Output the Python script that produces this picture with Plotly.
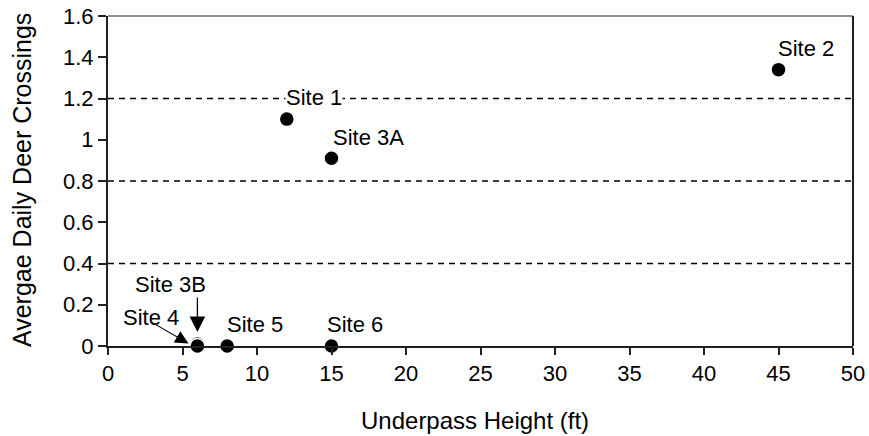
import plotly.graph_objects as go

# ---- data ----
sites = ["Site 1", "Site 2", "Site 3A", "Site 3B", "Site 4", "Site 5", "Site 6"]
heights_ft = [12, 45, 15, 6, 6, 8, 15]
daily_crossings = [1.10, 1.34, 0.91, 0.01, 0.0, 0.0, 0.0]
grid_levels = [0.4, 0.8, 1.2]
x_range = [0, 50]
y_range = [0, 1.6]
x_title = "Underpass Height (ft)"
y_title = "Avergae Daily Deer Crossings"

INK = "#231f20"
FONT = "Arial, Liberation Sans, Helvetica, sans-serif"
FS = 22

fig = go.Figure()

# dashed reference lines
for g in grid_levels:
    fig.add_shape(type="line", xref="paper", x0=0, x1=1, yref="y", y0=g, y1=g,
                  line=dict(color="black", width=1.3, dash="6px,5px"), layer="below")

# frame top/right
fig.add_shape(type="line", xref="paper", yref="paper", x0=0, x1=1, y0=1, y1=1,
              line=dict(color="#6e6e6e", width=1.5))
fig.add_shape(type="line", xref="paper", yref="paper", x0=1, x1=1, y0=0, y1=1,
              line=dict(color=INK, width=2))

fig.add_trace(go.Scatter(
    x=heights_ft, y=daily_crossings, mode="markers", cliponaxis=False,
    marker=dict(size=15, color="black", line=dict(color="white", width=1.5)),
    hovertext=sites, showlegend=False,
))

# label placement (pixel offsets from each point)
label_style = {
    "Site 1": dict(xanchor="left", xshift=-2, yshift=22),
    "Site 2": dict(xanchor="left", xshift=-2, yshift=21),
    "Site 3A": dict(xanchor="left", xshift=0, yshift=21),
    "Site 3B": dict(xanchor="center", xshift=-27, yshift=62),
    "Site 4": dict(xanchor="center", xshift=-46, yshift=29),
    "Site 5": dict(xanchor="left", xshift=-1, yshift=22),
    "Site 6": dict(xanchor="left", xshift=-6, yshift=22),
}
for name, xv, yv in zip(sites, heights_ft, daily_crossings):
    st = label_style[name]
    fig.add_annotation(
        x=xv, y=yv if name != "Site 3B" else 0, text=name, showarrow=False,
        xanchor=st["xanchor"], yanchor="middle", xshift=st["xshift"], yshift=st["yshift"],
        font=dict(family=FONT, size=FS, color="black"),
        bgcolor="white" if name == "Site 1" else None, borderpad=0,
    )

# pointer arrows for overlapping sites
fig.add_annotation(x=6, y=0.068, ax=0, ay=-36, text="", showarrow=True,
                   arrowhead=2, arrowsize=2.4, arrowwidth=1.3, arrowcolor="black")
fig.add_annotation(x=5.4, y=0.012, ax=-38, ay=-22, text="", showarrow=True,
                   arrowhead=2, arrowsize=2.4, arrowwidth=1.1, arrowcolor="black")

# axis titles
fig.add_annotation(xref="paper", yref="paper", x=0.4926, y=-0.227, text=x_title,
                   showarrow=False, xanchor="center", yanchor="middle",
                   font=dict(family=FONT, size=24, color="black"))
fig.add_annotation(xref="paper", yref="paper", x=-0.1154, y=0.503, text=y_title,
                   showarrow=False, xanchor="center", yanchor="middle", textangle=-90,
                   font=dict(family=FONT, size=25, color="black"))

fig.update_layout(
    width=869, height=436,
    margin=dict(l=108, r=16, t=16, b=90, autoexpand=False),
    paper_bgcolor="white", plot_bgcolor="white",
    font=dict(family=FONT, size=FS, color="black"),
    xaxis=dict(range=x_range, dtick=5, showgrid=False, zeroline=False, automargin=False,
               showline=True, linecolor=INK, linewidth=2, ticklabeloverflow="allow",
               ticks="outside", ticklen=7, tickwidth=2, tickcolor=INK,
               tickfont=dict(size=FS, color="black")),
    yaxis=dict(range=y_range, dtick=0.2, showgrid=False, zeroline=False, automargin=False,
               showline=True, linecolor=INK, linewidth=2, ticklabeloverflow="allow",
               ticks="outside", ticklen=8, tickwidth=2, tickcolor=INK,
               tickfont=dict(size=FS, color="black")),
)

# remove the default 8px page margin so the figure fills the window exactly
fig.write_html(
    "out.html",
    config={"displayModeBar": False},
    post_script="document.body.style.margin='0';document.body.style.overflow='hidden';",
)
